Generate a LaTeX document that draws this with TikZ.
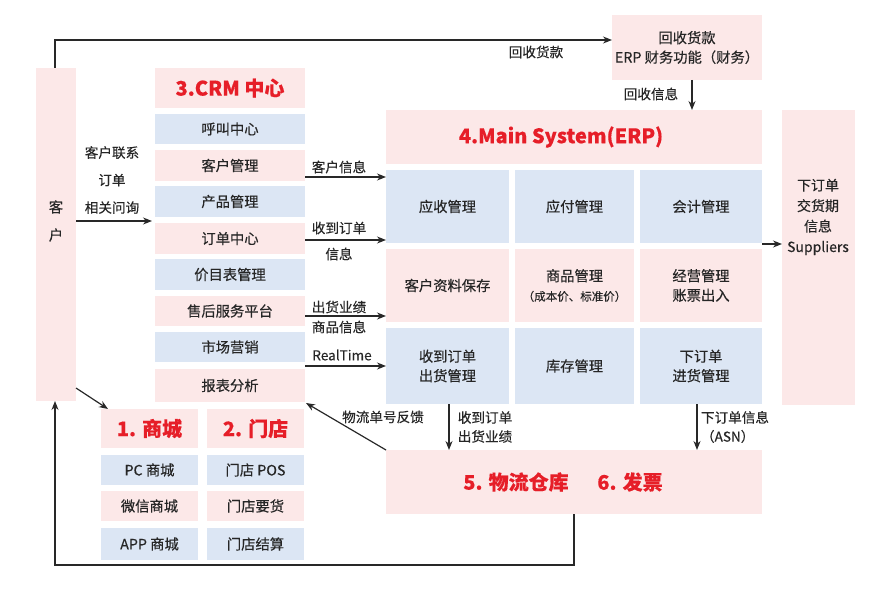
\documentclass[tikz,border=0pt]{standalone}
\usepackage{fontspec}
\setmainfont{Noto Sans CJK SC}[FakeBold=0.35]
\usetikzlibrary{arrows.meta,calc}
\definecolor{pk}{RGB}{252,232,232}
\definecolor{bl}{RGB}{220,230,244}
\definecolor{rd}{RGB}{230,30,40}
\definecolor{ln}{RGB}{40,40,40}
\newcommand\bx[7]{\node[box,fill=#6,minimum width={(#4-#2)*1pt},minimum height={(#5-#3)*1pt}] (#1) at ({(#2+#4)/2},{(#3+#5)/2}) {#7};}
\tikzset{
  box/.style={draw=none,inner sep=0pt,outer sep=0pt,align=center,font=\fontsize{14.3}{19.5}\selectfont,text=black!85},
  ttl/.style={font=\fontsize{20}{24}\selectfont\bfseries,text=rd},
  lbl/.style={font=\fontsize{13.6}{18}\selectfont,text=black!85,inner sep=0pt,align=center},
  arr/.style={draw=ln,line width=1.2pt,-{Stealth[length=9pt,width=7pt]}},
  ln/.style={draw=ln,line width=1.2pt}
}
\begin{document}
\begin{tikzpicture}[x=1pt,y=-1pt]
\useasboundingbox (0,0) rectangle (880,604);
% customer
\bx{kehu}{36}{68}{76}{401}{pk}{}
\node[lbl,font=\fontsize{14.3}{28}\selectfont] (kht) at (56,221) {客\\户};
% finance
\bx{fin}{612}{15}{762}{80}{pk}{回收货款\\ERP 财务功能（财务）}
% CRM
\bx{crm}{155}{68}{305}{108}{pk}{}
\node[ttl] (crmt) at (crm) {3.CRM 中心};
\bx{c1}{155}{114}{305}{144}{bl}{呼叫中心}
\bx{c2}{155}{150}{305}{181}{pk}{客户管理}
\bx{c3}{155}{186}{305}{217}{bl}{产品管理}
\bx{c4}{155}{223}{305}{254}{pk}{订单中心}
\bx{c5}{155}{259}{305}{290}{bl}{价目表管理}
\bx{c6}{155}{296}{305}{326}{pk}{售后服务平台}
\bx{c7}{155}{332}{305}{362}{bl}{市场营销}
\bx{c8}{155}{369}{305}{402}{pk}{报表分析}
% ERP
\bx{erp}{386}{110}{762}{164}{pk}{}
\node[ttl] (erpt) at (561,137) {4.Main System(ERP)};
\bx{e11}{386}{170}{509}{243}{bl}{应收管理}
\bx{e12}{515}{170}{634}{243}{bl}{应付管理}
\bx{e13}{640}{170}{762}{243}{bl}{会计管理}
\bx{e21}{386}{249}{509}{322}{pk}{客户资料保存}
\bx{e22}{515}{249}{634}{322}{pk}{商品管理\\{\fontsize{11.5}{15}\selectfont（成本价、标准价）}}
\bx{e23}{640}{249}{762}{322}{pk}{经营管理\\账票出入}
\bx{e31}{386}{328}{509}{404}{bl}{收到订单\\出货管理}
\bx{e32}{515}{328}{634}{404}{bl}{库存管理}
\bx{e33}{640}{328}{762}{404}{bl}{下订单\\进货管理}
% suppliers
\bx{sup}{782}{110}{855}{405}{pk}{}
\node[lbl,font=\fontsize{14}{20.5}\selectfont] (supt) at (818,217) {下订单\\交货期\\信息\\Suppliers};
% shops
\bx{sc}{101}{409}{198}{448}{pk}{}
\node[ttl] (sct) at (sc) {1. 商城};
\bx{md}{207}{409}{304}{448}{pk}{}
\node[ttl] (mdt) at (md) {2. 门店};
\bx{s1}{101}{455}{198}{485}{bl}{PC 商城}
\bx{s2}{101}{491}{198}{521}{pk}{微信商城}
\bx{s3}{101}{528}{198}{560}{bl}{APP 商城}
\bx{m1}{207}{455}{304}{485}{bl}{门店 POS}
\bx{m2}{207}{491}{304}{521}{pk}{门店要货}
\bx{m3}{207}{528}{304}{560}{bl}{门店结算}
% logistics
\bx{lw}{386}{450}{762}{514}{pk}{}
\node[ttl] (lwt1) at (516,482) {5. 物流仓库};
\node[ttl] (lwt2) at (630,482) {6. 发票};
% connectors
\draw[arr] (kehu.north -| 55,0) -- (55,40) -- (fin.west |- 0,40);
\node[lbl] (l1) at (536,52) {回收货款};
\draw[arr] (fin.south -| 692,0) -- (erp.north -| 692,0);
\node[lbl] (l2) at (651,94) {回收信息};
\draw[arr] (kehu.east |- 0,221) -- ([xshift=-3pt]c4.west |- 0,221);
\node[lbl,font=\fontsize{13.6}{27.5}\selectfont] (l3) at (112,180) {客户联系\\订单\\相关问询};
\draw[arr] (c2.east |- 0,177) -- (e11.west |- 0,177);
\node[lbl] (l4) at (339,167) {客户信息};
\draw[arr] (c4.east |- 0,240) -- (e21.west |- 0,240);
\node[lbl] (l5) at (339,228) {收到订单};
\node[lbl] (l6) at (339,254) {信息};
\draw[arr] (c6.east |- 0,316) -- (e21.west |- 0,316);
\node[lbl] (l7) at (339,307) {出货业绩};
\node[lbl] (l8) at (339,327) {商品信息};
\draw[arr] (c7.east |- 0,366) -- (e31.west |- 0,366);
\node[lbl] (l9) at (342,355) {RealTime};
\draw[arr] (e13.east |- 0,244) -- (sup.west |- 0,244);
\draw[arr] (kehu.south east |- 0,388) -- (108,409);
\draw[arr] (lw.north west) -- ([xshift=1pt,yshift=-1pt]c8.south east);
\node[lbl] (l10) at (383,417) {物流单号反馈};
\draw[arr] (e31.south -| 449,0) -- (lw.north -| 449,0);
\node[lbl,align=left,font=\fontsize{13.6}{19}\selectfont] (l11) at (485,427) {收到订单\\出货业绩};
\draw[arr] (e33.south -| 697,0) -- (lw.north -| 697,0);
\node[lbl,align=left,font=\fontsize{13.6}{19}\selectfont] (l12) at (735,427) {下订单信息\\（ASN）};
\draw[arr] (lw.south -| 574,0) -- (574,565) -- (55,565) -- (kehu.south -| 55,0);
\end{tikzpicture}
\end{document}
